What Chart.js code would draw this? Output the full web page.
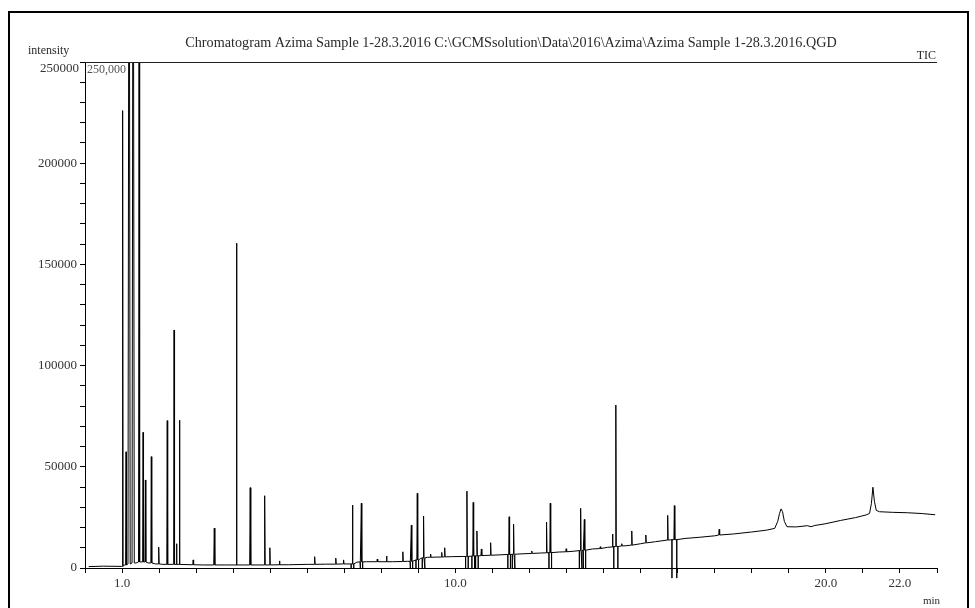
<!DOCTYPE html>
<html>
<head>
<meta charset="utf-8">
<script src="https://cdn.jsdelivr.net/npm/chart.js@4/dist/chart.umd.min.js"></script>
<style>
  html, body { margin: 0; padding: 0; background: #fff; }
  #wrap { width: 975px; height: 608px; position: relative; }
</style>
</head>
<body>
<div id="wrap"><canvas id="tic"></canvas></div>
<script>
// Chromatogram (TIC).
// Continuous trace: baseline drift plus the two broad late humps.
const traceTime = [0.10, 0.50, 0.98, 1.06, 1.38, 1.52, 1.70, 1.90, 2.10, 2.70, 3.20, 3.80, 4.30, 4.70,
  5.50, 6.00, 6.50, 7.10, 7.34, 7.60, 8.30, 8.70, 9.05, 9.25, 9.50, 9.90, 10.20, 10.80, 11.20, 11.80,
  12.30, 12.80, 13.20, 13.70, 14.10, 14.60, 15.00, 15.40, 15.80, 16.20, 16.60, 17.00, 17.50, 18.00,
  18.40, 18.62, 18.70, 18.75, 18.79, 18.83, 18.88, 18.95, 19.20, 19.50, 19.60, 19.70, 20.00, 20.40,
  20.80, 21.10, 21.18, 21.23, 21.27, 21.31, 21.36, 21.45, 21.80, 22.20, 22.60, 22.95];
const traceTic = [700, 900, 800, 1500, 2500, 3000, 2500, 2000, 1800, 1700, 1500, 1500, 1500, 1500,
  1600, 1800, 1900, 2000, 2900, 3100, 3100, 3300, 4600, 5300, 5400, 5600, 5700, 6200, 6500, 7000,
  7400, 7900, 8300, 9400, 10200, 11000, 12000, 13000, 13900, 14600, 15200, 15900, 16800, 17800,
  18700, 19600, 23000, 27000, 29200, 27800, 23000, 20400, 20300, 20900, 20400, 21000, 21900, 23500,
  24900, 26300, 27000, 32000, 39900, 33000, 28500, 27800, 27500, 27300, 26900, 26300];

// Sharp peaks: retention time (min), apex, foot level, half width (min)
// and the level the integration marks drop to (null = no marks).
// For marked peaks the half width is where the marks sit.
const peakTime = [1.016, 1.108, 1.19, 1.30, 1.46, 1.568, 1.63, 1.79, 1.99, 2.22, 2.405, 2.47, 2.55,
  2.92, 3.49, 4.09, 4.46, 4.85, 4.99, 5.25, 6.20, 6.77, 6.98, 7.22, 7.46, 7.89, 8.14, 8.58, 8.81,
  8.97, 9.14, 9.33, 9.63, 9.71, 10.31, 10.48, 10.58, 10.70, 10.95, 11.45, 11.57, 12.06, 12.46,
  12.56, 12.99, 13.38, 13.48, 13.91, 14.24, 14.33, 14.49, 14.76, 15.14, 15.73, 15.91, 17.12];
const peakTop = [226000, 57400, 420000, 420000, 252000, 67000, 43500, 55000, 10300, 72800, 117600,
  12000, 73000, 4000, 19700, 160500, 39700, 35700, 10000, 3500, 5600, 4900, 4000, 31100, 32000,
  4400, 5900, 8000, 21200, 36900, 25700, 6900, 7700, 10000, 38000, 32400, 18300, 9400, 12500,
  25300, 21600, 8400, 22700, 32000, 9500, 29500, 24000, 10500, 16800, 80500, 12000, 18300, 16300,
  26000, 30800, 19100];
const peakFoot = [800, 1500, 2000, 2500, 3000, 3000, 3000, 2500, 2000, 1800, 1800, 1800, 1800,
  1600, 1500, 1500, 1500, 1500, 1500, 1600, 1800, 1900, 2000, 2000, 3000, 3100, 3100, 3200, 3300,
  4000, 5000, 5300, 5400, 5500, 5700, 5900, 6000, 6100, 6300, 6700, 6800, 7200, 7500, 7600, 8000,
  8600, 8800, 9600, 10400, 10600, 10900, 11300, 12400, 13800, 14000, 16300];
const peakHalf = [0.012, 0.012, 0.03, 0.03, 0.015, 0.012, 0.012, 0.012, 0.012, 0.012, 0.012, 0.012,
  0.012, 0.012, 0.015, 0.012, 0.015, 0.015, 0.012, 0.012, 0.012, 0.012, 0.012, 0.035, 0.035, 0.012,
  0.012, 0.012, 0.035, 0.035, 0.035, 0.012, 0.012, 0.012, 0.035, 0.035, 0.035, 0.012, 0.012, 0.035,
  0.035, 0.012, 0.012, 0.035, 0.012, 0.035, 0.035, 0.012, 0.012, 0.055, 0.012, 0.012, 0.012, 0.012,
  0.065, 0.012];
const peakMark = [null, null, null, null, null, null, null, null, null, null, null, null, null,
  null, null, null, null, null, null, null, null, null, null, 0, 0, null, null, null, 0,
  0, 0, null, null, null, 0, 0, 0, null, null, 0, 0, null, null,
  0, null, 0, 0, null, null, 0, null, null, null, null, -5000, null];
const apexHalf = 0.012;

const xLabelled = [1, 10, 20, 22];

// merge trace and peaks into one polyline
function buildSeries() {
  const groups = peakTime.map((t, i) => {
    const h = peakHalf[i], f = peakFoot[i], m = peakMark[i];
    let pts;
    if (m === null) {
      pts = [{x: t - h, y: f}, {x: t, y: peakTop[i]}, {x: t + h, y: f}];
    } else {
      pts = [{x: t - h, y: f}, {x: t - h, y: m}, {x: t - h, y: f},
             {x: t - apexHalf, y: f}, {x: t, y: peakTop[i]}, {x: t + apexHalf, y: f},
             {x: t + h, y: f}, {x: t + h, y: m}, {x: t + h, y: f}];
    }
    return {from: t - h, to: t + h, pts};
  });
  const out = [];
  let g = 0;
  traceTime.forEach((t, i) => {
    while (g < groups.length && groups[g].from <= t) {
      out.push(...groups[g].pts);
      g++;
    }
    const inside = groups.some(gr => t >= gr.from && t <= gr.to);
    if (!inside) out.push({x: t, y: traceTic[i]});
  });
  while (g < groups.length) { out.push(...groups[g].pts); g++; }
  return out;
}

const serif = 'Liberation Serif';

const frame = {
  id: 'frame',
  afterDraw(chart) {
    const {ctx, chartArea: a} = chart;
    ctx.save();
    ctx.strokeStyle = '#000';
    ctx.lineWidth = 2;
    ctx.beginPath();
    ctx.moveTo(9, 620); ctx.lineTo(9, 12); ctx.lineTo(968, 12); ctx.lineTo(968, 620);
    ctx.stroke();
    ctx.lineWidth = 1;
    ctx.strokeStyle = '#222';
    ctx.beginPath();
    ctx.moveTo(a.left, a.top + 0.5); ctx.lineTo(a.right, a.top + 0.5);
    ctx.stroke();

    ctx.fillStyle = '#2a2a2a';
    ctx.textBaseline = 'middle';
    ctx.font = `14.2px "${serif}"`;
    ctx.textAlign = 'center';
    ctx.fillText('Chromatogram Azima Sample 1-28.3.2016 C:\\GCMSsolution\\Data\\2016\\Azima\\Azima Sample 1-28.3.2016.QGD', 511, 43);
    ctx.textAlign = 'left';
    ctx.font = `12px "${serif}"`;
    ctx.fillText('intensity', 28, 51);
    ctx.textAlign = 'right';
    ctx.fillText('TIC', 936, 56);
    ctx.font = `11px "${serif}"`;
    ctx.fillText('min', 940, 601);
    // top tick label sits just under its tick, as on the printout
    ctx.fillStyle = '#333';
    ctx.font = `13px "${serif}"`;
    ctx.fillText('250000', a.left - 6, a.top + 7);
    ctx.textAlign = 'left';
    ctx.font = `12px "${serif}"`;
    ctx.fillStyle = '#555';
    ctx.fillText('250,000', a.left + 2, a.top + 8);
    ctx.restore();
  }
};

new Chart(document.getElementById('tic'), {
  type: 'line',
  data: {
    datasets: [{
      data: buildSeries(),
      borderColor: '#000',
      borderWidth: 1,
      pointRadius: 0,
      tension: 0,
      fill: false,
      clip: {left: 0, top: 0, right: 0, bottom: 20}
    }]
  },
  options: {
    responsive: true,
    maintainAspectRatio: false,
    animation: false,
    devicePixelRatio: 1,
    layout: { padding: { top: 62, right: 38, left: 0, bottom: 0 } },
    plugins: { legend: { display: false }, tooltip: { enabled: false } },
    scales: {
      x: {
        type: 'linear',
        min: 0,
        max: 23,
        afterFit: s => { s.height = 40; },
        grid: { drawOnChartArea: false, drawTicks: true, tickLength: 5, color: '#000' },
        border: { color: '#000', width: 1 },
        ticks: {
          stepSize: 1,
          autoSkip: false,
          maxRotation: 0,
          padding: 3,
          color: '#333',
          font: { family: serif, size: 13 },
          callback: v => xLabelled.includes(v) ? v.toFixed(1) : ''
        }
      },
      y: {
        min: 0,
        max: 250000,
        afterFit: s => { s.width = 85; },
        grid: { drawOnChartArea: false, drawTicks: true, tickLength: 5, color: '#000' },
        border: { color: '#000', width: 1 },
        ticks: {
          stepSize: 10000,
          autoSkip: false,
          padding: 3,
          color: '#333',
          font: { family: serif, size: 13 },
          callback: v => (v % 50000 === 0 && v < 250000) ? String(v) : ''
        }
      }
    }
  },
  plugins: [frame]
});
</script>
</body>
</html>
